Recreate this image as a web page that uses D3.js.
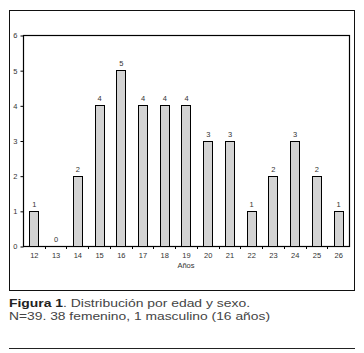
<!DOCTYPE html>
<html>
<head>
<meta charset="utf-8">
<script src="https://cdn.jsdelivr.net/npm/d3@7"></script>
<style>
  body { margin: 0; background: #fff; }
  svg { display: block; }
</style>
</head>
<body>
<div id="chart"></div>
<script>
// ages and number of cases
var ages = [12, 13, 14, 15, 16, 17, 18, 19, 20, 21, 22, 23, 24, 25, 26];
var counts = [1, 0, 2, 4, 5, 4, 4, 4, 3, 3, 1, 2, 3, 2, 1];
var yTicks = [0, 1, 2, 3, 4, 5, 6];
var xTitle = "Años";
var captionBold = "Figura 1";
var captionLine1 = ". Distribución por edad y sexo.";
var captionLine2 = "N=39. 38 femenino, 1 masculino (16 años)";

var W = 364, H = 353;
var plot = {left: 23, right: 349, top: 35, bottom: 246};
var font = "Liberation Sans, Arial, sans-serif";

var svg = d3.select("#chart").append("svg")
    .attr("width", W)
    .attr("height", H);

// outer frame
svg.append("rect")
    .attr("x", 9.5).attr("y", 10.5)
    .attr("width", 345).attr("height", 280)
    .attr("fill", "none")
    .attr("stroke", "#111")
    .attr("stroke-width", 1);

var x = d3.scaleBand()
    .domain(ages)
    .range([plot.left, plot.right])
    .paddingInner(0.58)
    .paddingOuter(0.29);

var y = d3.scaleLinear()
    .domain([0, 6])
    .range([plot.bottom, plot.top]);

// plot border
svg.append("rect")
    .attr("x", plot.left + 0.5).attr("y", plot.top + 0.5)
    .attr("width", plot.right - plot.left).attr("height", plot.bottom - plot.top)
    .attr("fill", "none")
    .attr("stroke", "#000")
    .attr("stroke-width", 1.2);

// bars
svg.selectAll(".bar")
    .data(counts)
    .enter().append("rect")
    .attr("class", "bar")
    .attr("x", (d, i) => Math.round(x(ages[i])) + 0.5)
    .attr("y", d => Math.round(y(d)) + 0.5)
    .attr("width", Math.round(x.bandwidth()))
    .attr("height", d => plot.bottom - Math.round(y(d)))
    .attr("fill", "#d3d3d3")
    .attr("stroke", "#000")
    .attr("stroke-width", 1);

// value labels
svg.selectAll(".val")
    .data(counts)
    .enter().append("text")
    .attr("class", "val")
    .attr("x", (d, i) => x(ages[i]) + x.bandwidth() / 2 + 0.5)
    .attr("y", d => y(d) - 4)
    .attr("text-anchor", "middle")
    .attr("font-family", font)
    .attr("font-size", 7.5)
    .attr("fill", "#333")
    .text(d => d);

// y axis
var yAxis = d3.axisLeft(y)
    .tickValues(yTicks)
    .tickFormat(d3.format("d"))
    .tickSize(3)
    .tickPadding(3);
var gy = svg.append("g")
    .attr("transform", "translate(" + (plot.left + 0.5) + ",0.5)")
    .call(yAxis);
gy.select(".domain").remove();
gy.selectAll("text")
    .attr("font-family", font)
    .attr("font-size", 7.5)
    .attr("fill", "#333");

// x axis
var xAxis = d3.axisBottom(x).tickSize(0).tickPadding(6);
var gx = svg.append("g")
    .attr("transform", "translate(0.5," + (plot.bottom + 0.5) + ")")
    .call(xAxis);
gx.select(".domain").remove();
gx.selectAll("text")
    .attr("font-family", font)
    .attr("font-size", 7.5)
    .attr("fill", "#333");

// minor ticks between categories
var step = x.step();
svg.selectAll(".xtick")
    .data(ages.slice(1))
    .enter().append("line")
    .attr("class", "xtick")
    .attr("x1", d => Math.round(x(d) - (step - x.bandwidth()) / 2) + 0.5)
    .attr("x2", d => Math.round(x(d) - (step - x.bandwidth()) / 2) + 0.5)
    .attr("y1", plot.bottom)
    .attr("y2", plot.bottom + 3)
    .attr("stroke", "#000")
    .attr("stroke-width", 1);

// axis title
svg.append("text")
    .attr("x", (plot.left + plot.right) / 2)
    .attr("y", 268)
    .attr("text-anchor", "middle")
    .attr("font-family", font)
    .attr("font-size", 7.5)
    .attr("fill", "#333")
    .text(xTitle);

// caption (the original type is set wide)
var cap = svg.append("text")
    .attr("x", 9)
    .attr("y", 307)
    .attr("font-family", font)
    .attr("font-size", 11)
    .attr("fill", "#444")
    .attr("textLength", 241)
    .attr("lengthAdjust", "spacingAndGlyphs");
cap.append("tspan").attr("font-weight", "bold").attr("fill", "#222").text(captionBold);
cap.append("tspan").text(captionLine1);

svg.append("text")
    .attr("x", 9)
    .attr("y", 319.5)
    .attr("font-family", font)
    .attr("font-size", 11)
    .attr("fill", "#444")
    .attr("textLength", 261)
    .attr("lengthAdjust", "spacingAndGlyphs")
    .text(captionLine2);

// bottom rule
svg.append("line")
    .attr("x1", 9).attr("x2", 355)
    .attr("y1", 348.5).attr("y2", 348.5)
    .attr("stroke", "#222")
    .attr("stroke-width", 1);
</script>
</body>
</html>
